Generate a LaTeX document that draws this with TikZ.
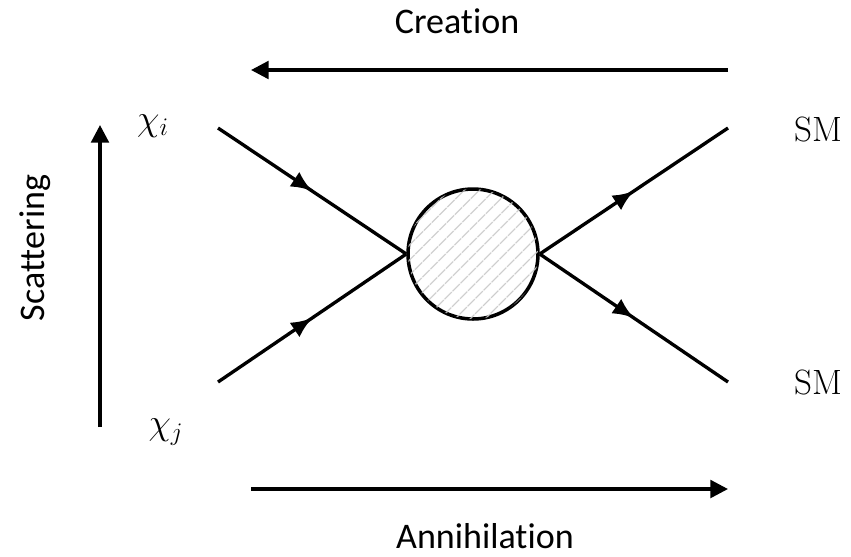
\documentclass[tikz,border=0pt]{standalone}
\usepackage{fontspec}
\newfontfamily\labelfont[Ligatures=NoCommon]{Carlito}
\usetikzlibrary{arrows.meta,decorations.markings,patterns.meta}

\begin{document}
\begin{tikzpicture}[
    x=0.02cm, y=-0.02cm,
    fermion/.style={line width=1.9pt, draw=black, postaction={decorate},
        decoration={markings, mark=at position 0.5 with {\arrow{Latex[length=12pt,width=10pt]}}}},
    blob/.style={circle, draw=black, line width=2pt, minimum size=2.6cm, inner sep=0pt, fill=white,
        postaction={pattern={Lines[angle=45, distance=6.5pt, line width=0.8pt]}, pattern color=black!22}},
    procarrow/.style={line width=1.9pt, draw=black, -{Triangle[length=10pt, width=10pt]}},
    proclabel/.style={font=\labelfont\fontsize{20.5}{24}\selectfont},
    particle/.style={font=\fontsize{20}{23}\selectfont}
]
    \useasboundingbox (0,0) rectangle (851,556);

    % Interaction blob and external legs
    \node[blob] (blob) at (473,254) {};
    \coordinate (in1) at (218,128);
    \coordinate (in2) at (218,382);
    \coordinate (out1) at (728,128);
    \coordinate (out2) at (728,382);
    \draw[fermion] (in1) -- (blob.west);
    \draw[fermion] (in2) -- (blob.west);
    \draw[fermion] (blob.east) -- (out1);
    \draw[fermion] (blob.east) -- (out2);

    % Particle labels
    \node[particle] (chii) at (153,126) {$\chi_i$};
    \node[particle] (chij) at (166,432) {$\chi_j$};
    \node[particle] (sm1) at (818,129) {SM};
    \node[particle] (sm2) at (818,382) {SM};

    % Process directions
    \coordinate (cre-a) at (728,70);
    \coordinate (cre-b) at (251,70);
    \coordinate (ann-a) at (251,489);
    \coordinate (ann-b) at (728,489);
    \coordinate (sca-a) at (100,427);
    \coordinate (sca-b) at (100,125);
    \draw[procarrow] (cre-a) -- (cre-b);
    \draw[procarrow] (ann-a) -- (ann-b);
    \draw[procarrow] (sca-a) -- (sca-b);

    \node[proclabel] (creation) at (457,21) {Creation};
    \node[proclabel] (annihilation) at (485,536) {Annihilation};
    \node[proclabel, rotate=90] (scattering) at (35,248) {Scattering};

\end{tikzpicture}
\end{document}
